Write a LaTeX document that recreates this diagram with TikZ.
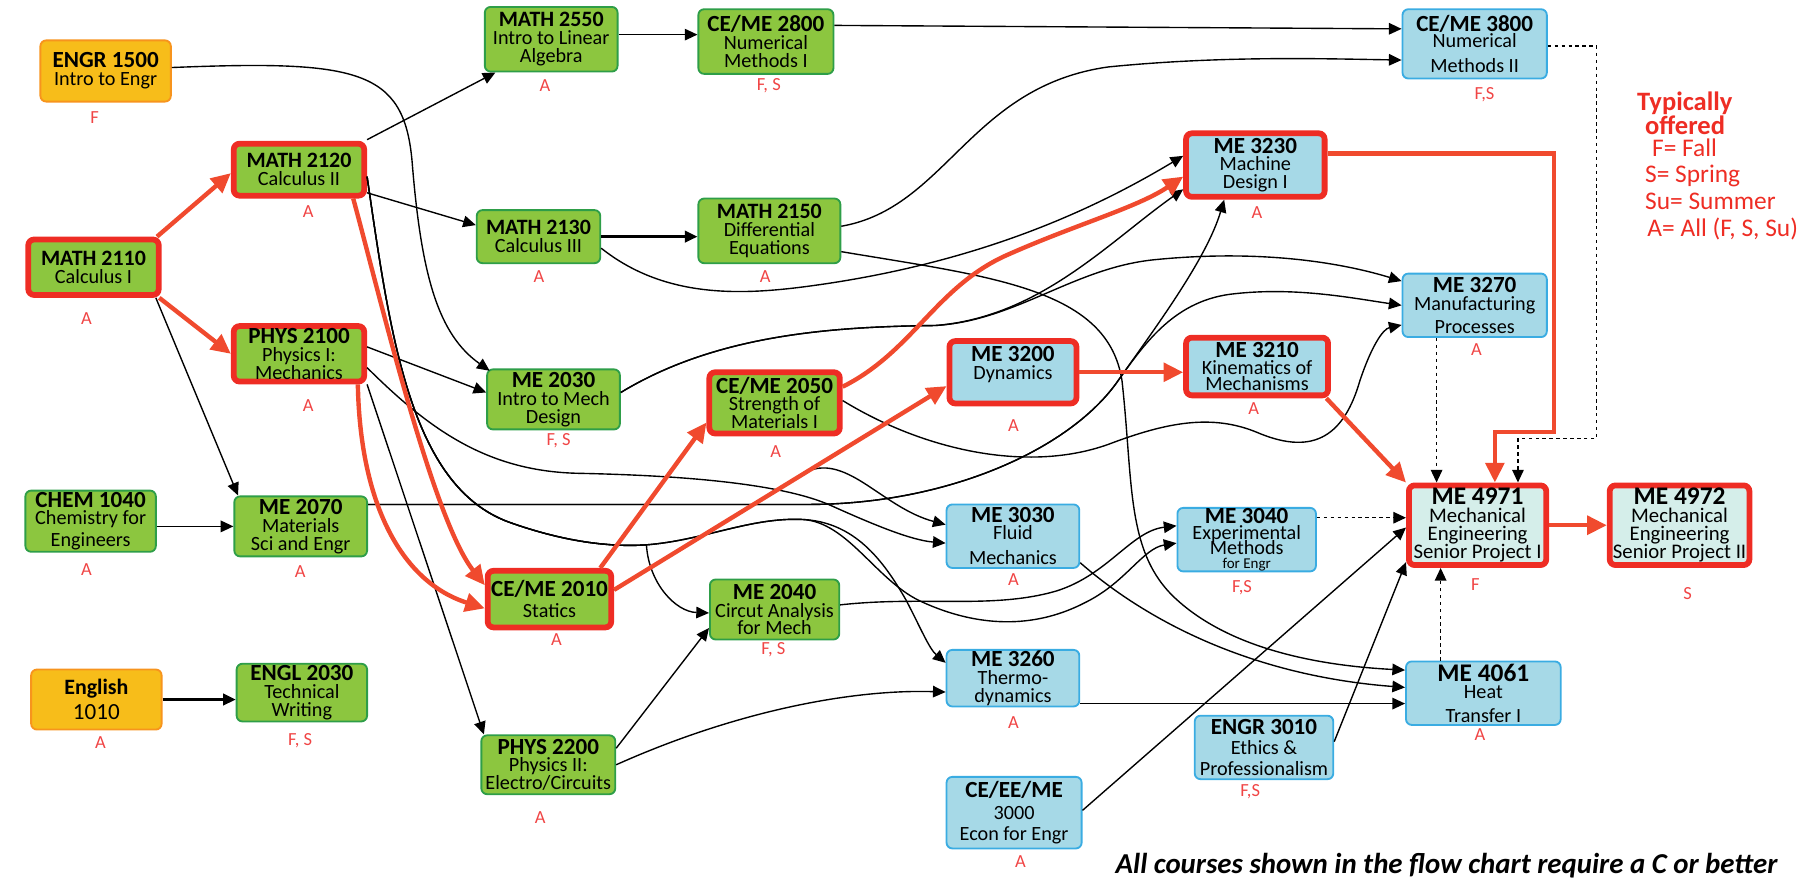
\documentclass[tikz,border=0pt]{standalone}
\usepackage{fontspec}
\setmainfont{Carlito}
\usetikzlibrary{arrows.meta,calc}
\definecolor{cgreen}{HTML}{8CC63F}
\definecolor{cgreenB}{HTML}{2E9E48}
\definecolor{corange}{HTML}{F7BD1A}
\definecolor{corangeB}{HTML}{F7941D}
\definecolor{cblue}{HTML}{A6D9E7}
\definecolor{cblueB}{HTML}{3AACE2}
\definecolor{clight}{HTML}{D5EEEA}
\definecolor{cred}{HTML}{EE2D24}
\definecolor{cline}{HTML}{F04A2E}
\definecolor{clab}{HTML}{F04545}
\newcommand{\ttl}[1]{{\fontsize{20}{16}\selectfont\bfseries #1}}
\newcommand{\ttlm}[1]{{\fontsize{19}{16}\selectfont\bfseries #1}}
\newcommand{\ttlb}[1]{{\fontsize{22}{17}\selectfont\bfseries #1}}
\begin{document}
\begin{tikzpicture}[x=1pt,y=-1pt,
  box/.style={rectangle, rounded corners=5pt, align=center, inner sep=0pt, font=\fontsize{17.5}{15.5}\selectfont, line width=1.6pt},
  sz/.style 2 args={minimum width=#1pt, minimum height=#2pt},
  gbox/.style={box, fill=cgreen, draw=cgreenB},
  obox/.style={box, fill=corange, draw=corangeB},
  bbox/.style={box, fill=cblue, draw=cblueB},
  hot/.style={draw=cred, line width=5pt},
  sbox/.style={box, fill=clight, draw=cred, line width=5pt},
  lab/.style={text=clab, font=\fontsize{16}{16}\selectfont, inner sep=0pt},
  arr/.style={-{Triangle[length=11pt,width=10pt]}, line width=1.2pt},
  rarr/.style={-{Triangle[length=17pt,width=16pt]}, line width=3.8pt, draw=cline},
  darr/.style={arr, dash pattern=on 3pt off 3pt}
]
\useasboundingbox (0,0) rectangle (1568,763);

% ---------- nodes ----------
\node[obox, sz={113}{53}] (e1500) at (91.5,61.5) {\ttl{ENGR 1500}\\Intro to Engr};
\node[gbox, hot, sz={113}{45}] (m2120) at (259,147) {\ttlm{MATH 2120}\\Calculus II};
\node[gbox, hot, sz={113}{48}] (m2110) at (81,231.5) {\ttlm{MATH 2110}\\Calculus I};
\node[gbox, sz={115}{56}] (m2550) at (477.5,34) {\ttlm{MATH 2550}\\Intro to Linear\\Algebra};
\node[gbox, sz={117}{56}] (c2800) at (663.5,36) {\ttl{CE/ME 2800}\\Numerical\\Methods I};
\node[bbox, sz={125}{60}] (c3800) at (1277.5,38) {\ttl{CE/ME 3800}\\[-1pt]Numerical\\[6pt]Methods II};
\node[bbox, hot, sz={120}{55}] (m3230) at (1087.5,143) {\ttl{ME 3230}\\Machine\\Design I};
\node[gbox, sz={107}{46}] (m2130) at (466.5,205) {\ttlm{MATH 2130}\\Calculus III};
\node[gbox, sz={123}{56}] (m2150) at (666.5,200) {\ttlm{MATH 2150}\\Differential\\Equations};
\node[bbox, sz={125}{55}] (m3270) at (1277.5,264.5) {\ttl{ME 3270}\\Manufacturing\\[4pt]Processes};
\node[gbox, hot, sz={113}{48}] (p2100) at (259,306.5) {\ttl{PHYS 2100}\\Physics I:\\Mechanics};
\node[gbox, sz={115}{52}] (m2030) at (479.5,346) {\ttl{ME 2030}\\Intro to Mech\\Design};
\node[gbox, hot, sz={113}{53}] (c2050) at (671,349) {\ttl{CE/ME 2050}\\Strength of\\Materials I};
\node[bbox, hot, sz={110}{54}] (m3200) at (877.5,322.5) {\ttl{ME 3200}\\Dynamics\\\rule{0pt}{8pt}};
\node[bbox, hot, sz={123}{50}] (m3210) at (1089,317.5) {\ttl{ME 3210}\\[-1pt]Kinematics of\\[-1pt]Mechanisms};
\node[gbox, sz={113}{53}] (ch1040) at (78.5,451.5) {\ttl{CHEM 1040}\\[-1pt]Chemistry for\\[4pt]Engineers};
\node[gbox, sz={115}{52}] (m2070) at (260.5,456) {\ttl{ME 2070}\\Materials\\Sci and Engr};
\node[bbox, sz={115}{55}] (m3030) at (877.5,464.5) {\ttl{ME 3030}\\[-1pt]Fluid\\[6pt]Mechanics};
\node[bbox, sz={120}{55}] (m3040) at (1080,467.5) {\ttl{ME 3040}\\[-2pt]Experimental\\[-2pt]Methods\\[-4pt]{\fontsize{13}{13}\selectfont for Engr}};
\node[sbox, sz={119}{69}] (m4971) at (1280,455) {\ttlb{ME 4971}\\{\fontsize{18}{16}\selectfont Mechanical}\\{\fontsize{18}{16}\selectfont Engineering}\\{\fontsize{18}{16}\selectfont Senior Project I}};
\node[sbox, sz={121}{69}] (m4972) at (1455,455) {\ttlb{ME 4972}\\{\fontsize{18}{16}\selectfont Mechanical}\\{\fontsize{18}{16}\selectfont Engineering}\\{\fontsize{18}{16}\selectfont Senior Project II}};
\node[gbox, hot, sz={107}{49}] (c2010) at (476,519) {\ttl{CE/ME 2010}\\[3pt]Statics};
\node[gbox, sz={112}{52}] (m2040) at (671,528) {\ttl{ME 2040}\\Circut Analysis\\for Mech};
\node[obox, sz={113}{52}] (eng1010) at (83.5,606) {{\bfseries\fontsize{19}{16}\selectfont English}\\[4pt]{\fontsize{20}{16}\selectfont 1010}};
\node[gbox, sz={113}{50}] (en2030) at (261.5,600) {\ttl{ENGL 2030}\\Technical\\Writing};
\node[bbox, sz={115}{49}] (m3260) at (877.5,587.5) {\ttl{ME 3260}\\Thermo-\\dynamics};
\node[bbox, sz={134}{55}] (m4061) at (1285,600.5) {\ttlb{ME 4061}\\[0pt]Heat\\[5pt]Transfer I};
\node[gbox, sz={116}{51}] (p2200) at (475,662.5) {\ttl{PHYS 2200}\\Physics II:\\Electro/Circuits};
\node[bbox, sz={120}{55}] (e3010) at (1095,647.5) {\ttl{ENGR 3010}\\[2pt]Ethics \&\\[2pt]Professionalism};
\node[bbox, sz={117}{62}] (c3000) at (878.5,704) {\ttl{CE/EE/ME}\\[3pt]3000\\[3pt]Econ for Engr};

% ---------- offering labels ----------
\node[lab] (l1) at (82,102) {F};
\node[lab] (l2) at (267,183) {A};
\node[lab] (l3) at (75,276) {A};
\node[lab] (l4) at (472,74) {A};
\node[lab] (l5) at (666,74) {F, S};
\node[lab] (l6) at (1286,82) {F,S};
\node[lab] (l7) at (1089,184) {A};
\node[lab] (l8) at (467,240) {A};
\node[lab] (l9) at (663,240) {A};
\node[lab] (l10) at (1279,303) {A};
\node[lab] (l11) at (267,351) {A};
\node[lab] (l12) at (484,382) {F, S};
\node[lab] (l13) at (672,391) {A};
\node[lab] (l14) at (878,369) {A};
\node[lab] (l15) at (1086,354) {A};
\node[lab] (l16) at (75,493) {A};
\node[lab] (l17) at (260,495) {A};
\node[lab] (l18) at (878,502) {A};
\node[lab] (l19) at (1076,509) {F,S};
\node[lab] (l20) at (1278,506) {F};
\node[lab] (l21) at (1462,514) {S};
\node[lab] (l22) at (482,554) {A};
\node[lab] (l23) at (670,563) {F, S};
\node[lab] (l24) at (87,643) {A};
\node[lab] (l25) at (260,642) {F, S};
\node[lab] (l26) at (878,626) {A};
\node[lab] (l27) at (1282,636) {A};
\node[lab] (l28) at (468,708) {A};
\node[lab] (l29) at (1083,686) {F,S};
\node[lab] (l30) at (884,746) {A};

% ---------- legend and footer ----------
\node[anchor=north west, align=left, text=cred, inner sep=0pt, font=\fontsize{23}{16}\selectfont\bfseries] (legt) at (1418,79) {Typically\\\hspace*{7pt}offered};
\node[anchor=north west, align=left, text=cred, inner sep=0pt, font=\fontsize{22}{23}\selectfont] (legl) at (1425,120) {\hspace*{6pt}F= Fall\\S= Spring\\Su= Summer\\\hspace*{2pt}A= All (F, S, Su)};
\node[anchor=east, inner sep=0pt, font=\fontsize{25}{25}\selectfont\bfseries\itshape] (foot) at (1540,750) {All courses shown in the flow chart require a C or better};

% ---------- black connectors ----------
\draw[arr] ($(m2110.south east)+(-5,0)$) -- ($(m2070.north west)+(4,0)$);
\draw[arr] (ch1040.east |- m2070.west) -- (m2070.west);
\draw[arr] ($(m2120.north east)+(0,-1)$) -- ($(m2550.south west)+(10,0)$);
\draw[arr] ($(m2120.east)+(0,20)$) -- ($(m2130.west)+(0,-10)$);
\draw[arr] ($(m2550.east)+(0,-4)$) -- ($(c2800.west)+(0,-6)$);
\draw[arr] ($(c2800.east)+(0,-14)$) -- ($(c3800.west)+(0,-13)$);
\draw[arr, line width=2.2pt] (m2130.east) -- (m2130.east -| m2150.west);
\draw[arr] ($(p2100.east)+(0,-6)$) -- ($(m2030.west)+(0,-6)$);
\draw[arr] (p2100.south east) -- ($(p2200.north west)+(3,0)$);
\draw[arr, line width=2.2pt] (eng1010.east) -- (eng1010.east -| en2030.west);
\draw[arr] ($(p2200.north east)+(0,12)$) -- ($(m2040.west)+(0,16)$);
\draw[arr] (p2200.east) .. controls (640,615) and (740,597) .. ($(m3260.west)+(0,12)$);
\draw[arr] ($(m3260.east)+(0,22)$) -- ($(m4061.west)+(0,9)$);
\draw[arr] ($(e3010.east)+(0,-5)$) -- ($(m4971.west)+(0,32)$);
\draw[arr] ($(c3000.east)+(0,-2)$) -- ($(m4971.west)+(0,2)$);

\draw[arr] ($(e1500.east)+(0,-3)$) .. controls (310,52) and (350,60) .. (357,140) .. controls (365,240) and (380,290) .. ($(m2030.north west)+(3,2)$);
\draw[arr] ($(m2150.east)+(0,-4)$) .. controls (820,180) and (840,75) .. (960,58) .. controls (1060,48) and (1150,51) .. ($(c3800.west)+(0,14)$);
\draw[arr] ($(m2130.east)+(0,10)$) .. controls (575,258) and (640,256) .. (700,248) .. controls (850,228) and (950,180) .. ($(m3230.west)+(0,-8)$);
\draw[arr] ($(m2150.east)+(0,18)$) .. controls (860,240) and (960,250) .. (972,330) .. controls (982,420) and (975,480) .. (1020,520) .. controls (1070,565) and (1150,577) .. ($(m4061.west)+(0,-20)$);
\draw[arr] ($(m2030.east)+(0,-6)$) .. controls (620,290) and (720,283) .. (810,282) .. controls (900,275) and (960,210) .. ($(m3230.west)+(0,21)$);
\draw[arr] ($(m2030.east)+(0,-6)$) .. controls (620,290) and (720,283) .. (810,282) .. controls (880,278) and (930,232) .. (1000,225) .. controls (1100,215) and (1170,230) .. ($(m3270.west)+(0,-21)$);
\draw[arr] ($(m2120.east)+(0,6)$) .. controls (338,290) and (355,420) .. (440,452) .. controls (490,470) and (530,474) .. (560,472) .. controls (562,505) and (585,530) .. ($(m2040.west)+(0,3)$);
\draw[arr] ($(m2120.east)+(0,6)$) .. controls (338,290) and (355,420) .. (440,452) .. controls (490,470) and (530,474) .. (560,472) .. controls (610,468) and (650,448) .. (695,450) .. controls (740,452) and (765,485) .. (785,520) .. controls (798,545) and (805,562) .. ($(m3260.north west)+(0,12)$);
\draw[arr] ($(m2120.east)+(0,6)$) .. controls (338,290) and (355,420) .. (440,452) .. controls (490,470) and (530,474) .. (560,472) .. controls (610,468) and (650,448) .. (695,450) .. controls (735,452) and (760,505) .. (800,522) .. controls (840,540) and (890,548) .. (940,522) .. controls (975,505) and (990,475) .. ($(m3040.west)+(0,3)$);
\draw[arr] ($(m2070.east)+(0,-19)$) -- (700,437) .. controls (820,437) and (925,390) .. (967,332) .. controls (1000,285) and (1045,225) .. ($(m3230.south)+(-27,0)$);
\draw[arr] ($(m2070.east)+(0,-19)$) -- (700,437) .. controls (820,437) and (925,390) .. (967,332) .. controls (990,300) and (1015,262) .. (1065,255) .. controls (1120,248) and (1170,258) .. (m3270.west);
\draw[arr] ($(c2050.east)+(0,-2)$) .. controls (800,390) and (890,410) .. (960,385) .. controls (1010,366) and (1050,358) .. (1090,375) .. controls (1140,396) and (1165,375) .. (1178,330) .. controls (1188,300) and (1198,285) .. ($(m3270.west)+(0,17)$);
\draw[arr] ($(c2010.east)+(0,-8)$) -- (700,408) .. controls (735,394) and (765,440) .. ($(m3030.west)+(0,-10)$);
\draw[arr] ($(p2100.east)+(0,12)$) .. controls (370,370) and (420,408) .. (500,410) .. controls (600,412) and (680,420) .. (720,438) .. controls (760,456) and (790,468) .. ($(m3030.west)+(0,6)$);
\draw[arr] ($(m2040.east)+(0,-4)$) .. controls (800,516) and (860,528) .. (915,512) .. controls (960,498) and (980,460) .. ($(m3040.west)+(0,-12)$);
\draw[arr] ($(m3030.east)+(0,23)$) .. controls (990,535) and (1080,585) .. ($(m4061.west)+(0,-5)$);

% ---------- dashed connectors ----------
\coordinate (d2s) at ($(m3270.south)+(-33,0)$);
\coordinate (d3s) at ($(m3040.east)+(0,-19)$);
\coordinate (d4s) at ($(m4061.north)+(-37,0)$);
\draw[darr] ($(c3800.east)+(0,2)$) -| (1383,380) -| ($(m4971.north)+(35,0)$);
\draw[darr] (d2s) -- (d2s |- m4971.north);
\draw[darr] (d3s) -- (d3s -| m4971.west);
\draw[darr] (d4s) -- (d4s |- m4971.south);

% ---------- red connectors ----------
\draw[rarr] ($(m2110.north east)+(-4,0)$) -- ($(m2120.west)+(0,3)$);
\draw[rarr] ($(m2110.south east)+(-2,0)$) -- (p2100.west);
\draw[rarr] ($(m2120.south east)+(-12,0)$) .. controls (330,260) and (375,450) .. ($(c2010.west)+(0,-12)$);
\draw[rarr] ($(p2100.south east)+(-8,0)$) .. controls (312,440) and (350,505) .. ($(c2010.west)+(0,8)$);
\draw[rarr] ($(c2010.north east)+(-12,0)$) -- ($(c2050.south west)+(0,-12)$);
\draw[rarr] ($(c2010.east)+(0,-8)$) -- ($(m3200.west)+(0,12)$);
\draw[rarr] ($(c2050.east)+(0,-14)$) .. controls (790,305) and (810,250) .. (870,222) .. controls (930,195) and (985,180) .. ($(m3230.west)+(0,10)$);
\draw[rarr] (m3200.east) -- (m3200.east -| m3210.west);
\draw[rarr] ($(m3210.south east)+(-4,0)$) -- (m4971.north west);
\draw[rarr] ($(m3230.east)+(0,-10)$) -| (1346,374) -| ($(m4971.north)+(15,0)$);
\draw[rarr] (m4971.east) -- (m4972.west);
\end{tikzpicture}
\end{document}
